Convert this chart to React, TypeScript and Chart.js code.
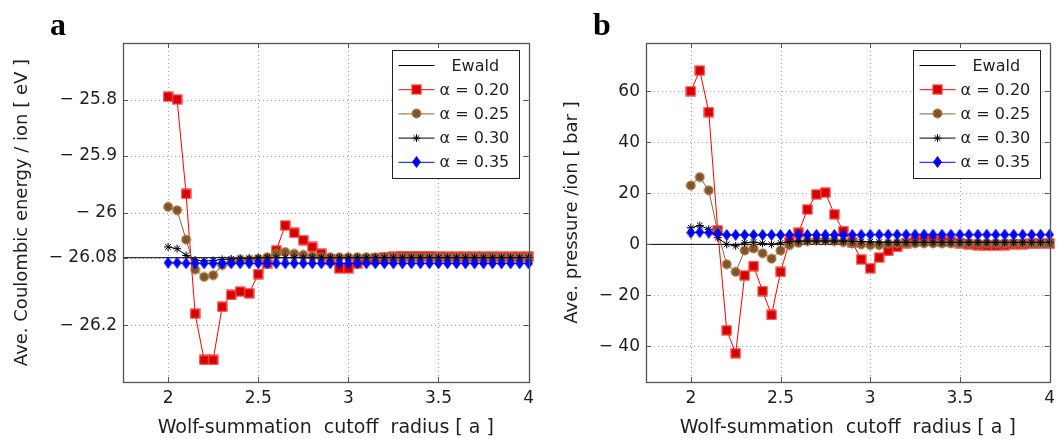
import React, { useEffect, useRef } from 'react';
import { Chart, registerables } from 'chart.js';

Chart.register(...registerables);

// ---------------- data ----------------
const cutoffRadius = [
  2.0, 2.05, 2.1, 2.15, 2.2, 2.25, 2.3, 2.35, 2.4, 2.45,
  2.5, 2.55, 2.6, 2.65, 2.7, 2.75, 2.8, 2.85, 2.9, 2.95,
  3.0, 3.05, 3.1, 3.15, 3.2, 3.25, 3.3, 3.35, 3.4, 3.45,
  3.5, 3.55, 3.6, 3.65, 3.7, 3.75, 3.8, 3.85, 3.9, 3.95, 4.0,
];

const energyEwald = -26.08;
const energyAlpha020 = [
  -25.795, -25.8, -25.967, -26.179, -26.261, -26.261, -26.167, -26.146, -26.14, -26.143,
  -26.109, -26.09, -26.067, -26.023, -26.036, -26.049, -26.061, -26.073, -26.084, -26.099,
  -26.099, -26.09, -26.084, -26.081, -26.079, -26.078, -26.077, -26.077, -26.077, -26.077,
  -26.078, -26.078, -26.078, -26.078, -26.078, -26.078, -26.078, -26.078, -26.078, -26.078, -26.078,
];
const energyAlpha025 = [
  -25.99, -25.996, -26.048, -26.101, -26.114, -26.111, -26.093, -26.087, -26.084, -26.084,
  -26.082, -26.079, -26.073, -26.07, -26.073, -26.075, -26.077, -26.079, -26.079, -26.079,
  -26.079, -26.079, -26.079, -26.079, -26.079, -26.079, -26.079, -26.079, -26.079, -26.079,
  -26.079, -26.079, -26.079, -26.079, -26.079, -26.079, -26.079, -26.079, -26.079, -26.079, -26.079,
];
const energyAlpha030 = [
  -26.061, -26.064, -26.076, -26.084, -26.086, -26.085, -26.083, -26.082, -26.081, -26.081,
  -26.08, -26.08, -26.08, -26.08, -26.08, -26.08, -26.08, -26.08, -26.08, -26.08,
  -26.08, -26.08, -26.08, -26.08, -26.08, -26.08, -26.08, -26.08, -26.08, -26.08,
  -26.08, -26.08, -26.08, -26.08, -26.08, -26.08, -26.08, -26.08, -26.08, -26.08, -26.08,
];
const energyAlpha035 = [
  -26.089, -26.089, -26.09, -26.09, -26.09, -26.09, -26.09, -26.09, -26.09, -26.09,
  -26.09, -26.09, -26.09, -26.09, -26.09, -26.09, -26.09, -26.09, -26.09, -26.09,
  -26.09, -26.09, -26.09, -26.09, -26.09, -26.09, -26.09, -26.09, -26.09, -26.09,
  -26.09, -26.09, -26.09, -26.09, -26.09, -26.09, -26.09, -26.09, -26.09, -26.09, -26.09,
];

const pressureEwald = 0;
const pressureAlpha020 = [
  60.1, 68.2, 51.9, 5.5, -33.7, -42.7, -12.2, -8.5, -18.3, -27.7,
  -10.8, 1.0, 4.6, 13.7, 19.6, 20.3, 11.8, 5.2, 0.7, -5.9,
  -9.4, -5.2, -2.6, -1.0, 0.5, 1.2, 1.5, 1.5, 1.3, 1.0,
  0.5, 0.0, -0.3, -0.5, -0.5, -0.3, 0.0, 0.0, 0.2, 0.3, 0.3,
];
const pressureAlpha025 = [
  23.1, 26.4, 21.2, 4.8, -7.8, -10.8, -2.4, -1.6, -3.5, -5.6,
  -2.4, -0.3, 0.6, 1.3, 1.6, 1.6, 1.3, 0.9, 0.4, 0.0,
  -0.3, -0.3, 0.2, 0.4, 0.4, 0.4, 0.4, 0.4, 0.4, 0.4,
  0.4, 0.4, 0.4, 0.4, 0.4, 0.4, 0.4, 0.4, 0.4, 0.4, 0.4,
];
const pressureAlpha030 = [
  6.5, 7.4, 5.9, 2.6, 0.0, -0.6, 0.6, 0.9, 0.4, 0.0,
  0.6, 1.0, 1.3, 1.3, 1.3, 1.3, 1.3, 1.3, 1.2, 1.1,
  1.0, 0.9, 0.8, 0.8, 0.8, 0.8, 0.8, 0.8, 0.8, 0.8,
  0.8, 0.8, 0.8, 0.8, 0.8, 0.8, 0.8, 0.8, 0.8, 0.8, 0.8,
];
const pressureAlpha035 = [
  4.6, 4.8, 4.6, 4.2, 3.7, 3.7, 3.7, 3.7, 3.7, 3.7,
  3.7, 3.7, 3.7, 3.7, 3.7, 3.7, 3.7, 3.7, 3.7, 3.7,
  3.8, 3.8, 3.8, 3.8, 3.8, 3.8, 3.8, 3.8, 3.8, 3.8,
  3.8, 3.8, 3.8, 3.8, 3.8, 3.8, 3.8, 3.8, 3.8, 3.8, 3.8,
];

const seriesLabels = ['Ewald', 'α = 0.20', 'α = 0.25', 'α = 0.30', 'α = 0.35'];

const xTickValues = [2, 2.5, 3, 3.5, 4];
const xTickLabels = ['2', '2.5', '3', '3.5', '4'];
const energyTickValues = [-25.8, -25.9, -26, -26.08, -26.2];
const energyTickLabels = ['− 25.8', '− 25.9', '− 26', '− 26.08', '− 26.2'];
const pressureTickValues = [60, 40, 20, 0, -20, -40];
const pressureTickLabels = ['60', '40', '20', '0', '− 20', '− 40'];

const xTitle = 'Wolf-summation  cutoff  radius [ a ]';
const energyTitle = 'Ave. Coulombic energy / ion [ eV ]';
const pressureTitle = 'Ave. pressure /ion [ bar ]';

// ---------------- styles ----------------
const FONT = 'DejaVu Sans';
const TEXT = '#1e1e1e';
const AXIS = '#555555';
const colors = ['#000000', '#ff0000', '#8c6239', '#000000', '#0000ff'];

function makeSquare() {
  const c = document.createElement('canvas');
  c.width = 11; c.height = 11;
  const g = c.getContext('2d')!;
  g.fillStyle = '#d20000';
  g.fillRect(1, 1, 9, 9);
  g.strokeStyle = '#ff3a3a';
  g.lineWidth = 1.3;
  g.strokeRect(1, 1, 9, 9);
  return c;
}
function makeCircle() {
  const c = document.createElement('canvas');
  c.width = 11; c.height = 11;
  const g = c.getContext('2d')!;
  g.beginPath();
  g.arc(5.5, 5.5, 4.5, 0, Math.PI * 2);
  g.fillStyle = '#8b5a2b';
  g.fill();
  g.strokeStyle = '#a57a4e';
  g.lineWidth = 1;
  g.stroke();
  g.strokeStyle = '#6a4222';
  g.lineWidth = 0.8;
  g.beginPath();
  g.moveTo(3, 3); g.lineTo(8, 8);
  g.moveTo(8, 3); g.lineTo(3, 8);
  g.stroke();
  return c;
}
function makeDiamond() {
  const c = document.createElement('canvas');
  c.width = 9; c.height = 12;
  const g = c.getContext('2d')!;
  g.beginPath();
  g.moveTo(4.5, 0.5); g.lineTo(8.5, 6); g.lineTo(4.5, 11.5); g.lineTo(0.5, 6);
  g.closePath();
  g.fillStyle = '#0000ff';
  g.fill();
  g.strokeStyle = '#0000d0';
  g.lineWidth = 0.8;
  g.stroke();
  return c;
}

function drawStar(ctx: CanvasRenderingContext2D, x: number, y: number, r: number) {
  ctx.save();
  ctx.strokeStyle = '#000';
  ctx.lineWidth = 1;
  ctx.beginPath();
  for (let k = 0; k < 4; k++) {
    const a = (k * Math.PI) / 4;
    ctx.moveTo(x - r * Math.cos(a), y - r * Math.sin(a));
    ctx.lineTo(x + r * Math.cos(a), y + r * Math.sin(a));
  }
  ctx.stroke();
  ctx.restore();
}

type Panel = {
  letter: string;
  ewald: number;
  series: number[][];
  yMin: number;
  yMax: number;
  yTicks: number[];
  yLabels: string[];
  yTitle: string;
  yTitlePad: number;
  yAxisWidth: number;
  padRight: number;
  letterX: number;
};

function makeFramePlugin(p: Panel, markers: any[]) {
  return {
    id: 'frame',
    beforeDatasetsDraw(chart: any) {
      const { ctx, chartArea: a, scales } = chart;
      const x = scales.x, y = scales.y;
      ctx.save();
      ctx.strokeStyle = '#a8a8a8';
      ctx.lineWidth = 1;
      ctx.setLineDash([1, 3]);
      ctx.beginPath();
      for (const v of xTickValues) {
        if (v <= x.min || v >= x.max) continue;
        const px = Math.round(x.getPixelForValue(v)) + 0.5;
        ctx.moveTo(px, a.top);
        ctx.lineTo(px, a.bottom);
      }
      for (const v of p.yTicks) {
        if (v <= y.min || v >= y.max) continue;
        const py = Math.round(y.getPixelForValue(v)) + 0.5;
        ctx.moveTo(a.left, py);
        ctx.lineTo(a.right, py);
      }
      ctx.stroke();
      ctx.restore();
    },
    afterDraw(chart: any) {
      const { ctx, chartArea: a, scales } = chart;
      const x = scales.x, y = scales.y;
      ctx.save();
      // ticks (inward)
      ctx.strokeStyle = AXIS;
      ctx.lineWidth = 1;
      ctx.beginPath();
      const L = 5;
      for (const v of xTickValues) {
        if (v <= x.min || v >= x.max) continue;
        const px = Math.round(x.getPixelForValue(v)) + 0.5;
        ctx.moveTo(px, a.bottom); ctx.lineTo(px, a.bottom - L);
        ctx.moveTo(px, a.top); ctx.lineTo(px, a.top + L);
      }
      for (const v of p.yTicks) {
        if (v <= y.min || v >= y.max) continue;
        const py = Math.round(y.getPixelForValue(v)) + 0.5;
        ctx.moveTo(a.left, py); ctx.lineTo(a.left + L, py);
        ctx.moveTo(a.right, py); ctx.lineTo(a.right - L, py);
      }
      ctx.stroke();
      // box
      ctx.lineWidth = 1.3;
      ctx.strokeRect(Math.round(a.left) + 0.5, Math.round(a.top) + 0.5,
        Math.round(a.right - a.left), Math.round(a.bottom - a.top));

      // legend
      const bw = 127, bh = 128;
      const bx = Math.round(a.right - 10 - bw) + 0.5;
      const by = Math.round(a.top + 7) + 0.5;
      ctx.fillStyle = '#ffffff';
      ctx.fillRect(bx, by, bw, bh);
      ctx.strokeStyle = '#222';
      ctx.lineWidth = 1;
      ctx.strokeRect(bx, by, bw, bh);
      ctx.font = `16px "${FONT}"`;
      ctx.textBaseline = 'middle';
      ctx.textAlign = 'left';
      for (let i = 0; i < seriesLabels.length; i++) {
        const ry = by + 15 + i * 24.2;
        ctx.strokeStyle = colors[i];
        ctx.lineWidth = 1;
        ctx.beginPath();
        ctx.moveTo(bx + 6, ry);
        ctx.lineTo(bx + 42, ry);
        ctx.stroke();
        const mk = markers[i];
        if (mk === 'star') drawStar(ctx, bx + 24, ry, 4);
        else if (mk) ctx.drawImage(mk, Math.round(bx + 24 - mk.width / 2), Math.round(ry - mk.height / 2));
        ctx.fillStyle = TEXT;
        ctx.fillText(seriesLabels[i], i === 0 ? bx + 59 : bx + 47, ry + 1);
      }

      // panel letter
      ctx.fillStyle = '#000';
      ctx.font = 'bold 32px "Liberation Serif"';
      ctx.textBaseline = 'alphabetic';
      ctx.fillText(p.letter, p.letterX, 35);
      ctx.restore();
    },
  };
}

function buildConfig(p: Panel) {
  const markers: any[] = [null, makeSquare(), makeCircle(), 'star', makeDiamond()];
  const xy = (arr: number[]) => cutoffRadius.map((r, i) => ({ x: r, y: arr[i] }));
  const datasets: any[] = [
    {
      label: seriesLabels[0],
      data: [{ x: 1.75, y: p.ewald }, { x: 4, y: p.ewald }],
      borderColor: colors[0], borderWidth: 1, pointRadius: 0, order: 4,
    },
  ];
  const orders = [3, 2, 1, 0];
  p.series.forEach((s, k) => {
    const i = k + 1;
    datasets.push({
      label: seriesLabels[i],
      data: xy(s),
      borderColor: colors[i],
      backgroundColor: colors[i],
      borderWidth: 1,
      pointStyle: markers[i],
      pointRadius: markers[i] === 'star' ? 4 : 5,
      pointBorderColor: '#000',
      pointBorderWidth: 1,
      order: orders[k],
      clip: false,
    });
  });

  const tickFont = { family: FONT, size: 17 };
  return {
    type: 'line',
    data: { datasets },
    options: {
      animation: false,
      responsive: false,
      maintainAspectRatio: false,
      events: [],
      layout: { padding: { left: 0, top: 43, right: p.padRight, bottom: 0 } },
      plugins: { legend: { display: false }, tooltip: { enabled: false }, title: { display: false } },
      elements: { line: { tension: 0 } },
      scales: {
        x: {
          type: 'linear',
          min: 1.75,
          max: 4,
          bounds: 'data',
          afterBuildTicks: (s: any) => { s.ticks = xTickValues.map((v) => ({ value: v })); },
          afterFit: (s: any) => { s.height = 57; },
          ticks: {
            autoSkip: false, maxRotation: 0, padding: 6, color: TEXT, font: tickFont,
            callback: (v: number) => xTickLabels[xTickValues.indexOf(v)],
          },
          grid: { display: false, drawTicks: false, tickLength: 0 },
          border: { display: false },
          title: {
            display: true, text: xTitle, color: TEXT,
            font: { family: FONT, size: 19 }, padding: { top: 0, bottom: 0 },
          },
        },
        y: {
          type: 'linear',
          min: p.yMin,
          max: p.yMax,
          bounds: 'data',
          afterBuildTicks: (s: any) => { s.ticks = p.yTicks.map((v) => ({ value: v })); },
          afterFit: (s: any) => { s.width = p.yAxisWidth; },
          ticks: {
            autoSkip: false, padding: 6, color: TEXT, font: tickFont,
            callback: (v: number) => p.yLabels[p.yTicks.indexOf(v)],
          },
          grid: { display: false, drawTicks: false, tickLength: 0 },
          border: { display: false },
          title: {
            display: true, text: p.yTitle, color: TEXT,
            font: { family: FONT, size: 18 }, padding: { top: p.yTitlePad, bottom: 0 },
          },
        },
      },
    },
    plugins: [makeFramePlugin(p, markers)],
  };
}

const panelA: Panel = {
  letter: 'a',
  ewald: energyEwald,
  series: [energyAlpha020, energyAlpha025, energyAlpha030, energyAlpha035],
  yMin: -26.3, yMax: -25.7,
  yTicks: energyTickValues, yLabels: energyTickLabels,
  yTitle: energyTitle, yTitlePad: 12, yAxisWidth: 123, padRight: 7, letterX: 50,
};
const panelB: Panel = {
  letter: 'b',
  ewald: pressureEwald,
  series: [pressureAlpha020, pressureAlpha025, pressureAlpha030, pressureAlpha035],
  yMin: -54, yMax: 79,
  yTicks: pressureTickValues, yLabels: pressureTickLabels,
  yTitle: pressureTitle, yTitlePad: 22, yAxisWidth: 106, padRight: 6, letterX: 53,
};

function PanelChart({ panel, left, width }: { panel: Panel; left: number; width: number }) {
  const ref = useRef<HTMLCanvasElement | null>(null);
  useEffect(() => {
    if (!ref.current) return;
    const chart = new Chart(ref.current, buildConfig(panel) as any);
    return () => chart.destroy();
  }, [panel]);
  return (
    <canvas
      ref={ref}
      width={width}
      height={439}
      style={{ position: 'absolute', left, top: 0, width, height: 439, display: 'block' }}
    />
  );
}

export default function App() {
  return (
    <div style={{ position: 'fixed', left: 0, top: 0, width: 1061, height: 439, background: '#ffffff', overflow: 'hidden' }}>
      <PanelChart panel={panelA} left={0} width={540} />
      <PanelChart panel={panelB} left={540} width={521} />
    </div>
  );
}
